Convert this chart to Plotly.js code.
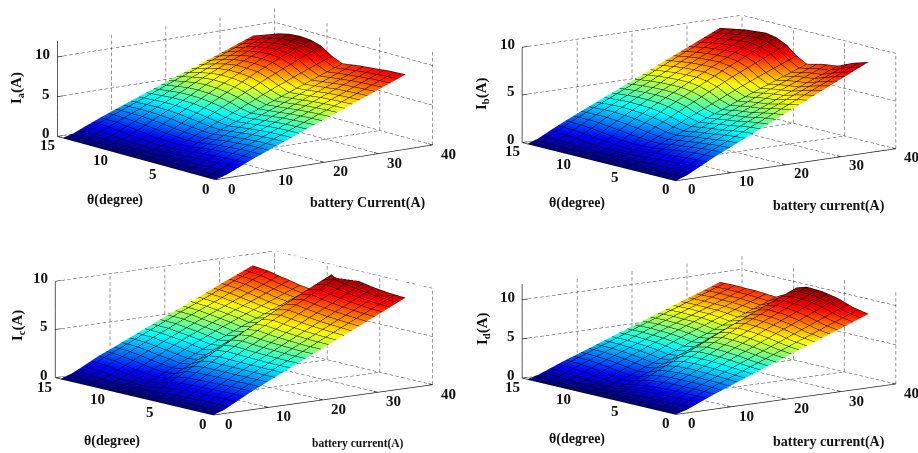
<!DOCTYPE html>
<html><head><meta charset="utf-8">
<script src="https://cdn.plot.ly/plotly-3.0.1.min.js"></script>
<style>html,body{margin:0;padding:0;background:#fff}#g{width:918px;height:453px}</style>
</head><body><div id="g"></div>
<script>
const W=918,H=453;
const batteryCurrent=[0,2,4,7,10,15,20,25,30,35];
const theta=[0,1.5,3,4.5,6,7,8,9,10,11,12,13,14.5];
const xTicks=[0,10,20,30,40];
const thetaTicks=[0,5,10,15];
const zTicksAll=[0,5,10];
const zA=[
[0,0,0,0,0,0,0,0,0,0,0,0,0],
[.4,.35,.3,.25,.2,.15,.15,.15,.2,.2,.25,.3,.35],
[1.0,.95,.85,.7,.55,.45,.4,.45,.5,.6,.7,.85,.95],
[1.9,1.85,1.7,1.5,1.2,1.1,1.1,1.15,1.3,1.45,1.6,1.75,1.8],
[2.7,2.65,2.5,2.3,2.0,2.0,2.1,2.2,2.4,2.5,2.6,2.6,2.6],
[4.05,4.0,3.85,3.6,3.35,3.5,3.75,3.95,4.1,4.15,4.15,4.05,3.9],
[5.4,5.3,5.15,4.9,4.7,5.0,5.45,5.75,5.9,5.95,5.85,5.6,5.2],
[6.7,6.6,6.45,6.2,6.0,6.5,7.1,7.5,7.6,7.6,7.4,7.05,6.45],
[8.05,7.95,7.8,7.55,7.3,7.85,8.6,9.05,9.15,9.05,8.8,8.4,7.7],
[9.4,9.3,9.1,8.9,8.6,9.2,10.1,10.5,10.6,10.5,10.2,9.7,9.0]];
const zB=[
[0,0,0,0,0,0,0,0,0,0,0,0,0],
[.4,.35,.3,.3,.25,.2,.2,.2,.25,.3,.35,.35,.4],
[1.0,.95,.85,.75,.6,.55,.5,.55,.6,.7,.8,.9,1.0],
[1.9,1.85,1.7,1.5,1.25,1.2,1.2,1.25,1.4,1.55,1.7,1.8,1.85],
[2.7,2.6,2.4,2.2,1.95,2.0,2.2,2.35,2.5,2.6,2.7,2.7,2.65],
[4.05,3.9,3.6,3.4,3.15,3.35,3.7,3.95,4.1,4.15,4.15,4.1,3.95],
[5.4,5.15,4.8,4.6,4.3,4.65,5.15,5.45,5.6,5.6,5.55,5.45,5.25],
[6.8,6.45,6.0,5.8,5.5,5.95,6.6,6.95,7.1,7.05,7.0,6.85,6.6],
[8.15,7.7,7.15,6.95,6.6,7.15,7.9,8.35,8.5,8.45,8.35,8.2,7.9],
[9.5,9.0,8.3,8.1,7.7,8.3,9.2,9.7,9.9,9.8,9.7,9.5,9.2]];
const zC=[
[0,0,0,0,0,0,0,0,0,0,0,0,0],
[.4,.4,.35,.3,.25,.2,.1,.1,.15,.2,.25,.3,.4],
[1.0,1.0,.95,.9,.8,.7,.45,.35,.45,.55,.7,.85,.95],
[1.9,1.9,1.85,1.8,1.75,1.6,1.2,1.05,1.15,1.3,1.5,1.7,1.85],
[2.7,2.7,2.7,2.7,2.7,2.55,2.0,1.85,2.0,2.15,2.35,2.5,2.6],
[4.05,4.05,4.1,4.15,4.25,4.1,3.35,3.2,3.4,3.6,3.7,3.85,3.9],
[5.4,5.4,5.5,5.6,5.8,5.65,4.7,4.5,4.7,4.85,5.0,5.15,5.2],
[6.7,6.8,6.9,7.1,7.3,7.15,6.0,5.7,5.9,6.05,6.2,6.35,6.45],
[8.05,8.15,8.3,8.5,8.8,8.6,7.2,6.85,7.0,7.2,7.4,7.6,7.75],
[9.4,9.5,9.7,10.0,10.3,10.0,8.4,8.0,8.15,8.4,8.6,8.85,9.0]];
const zD=[
[0,0,0,0,0,0,0,0,0,0,0,0,0],
[.4,.4,.35,.3,.25,.2,.1,.1,.15,.2,.25,.3,.4],
[1.0,1.0,.95,.9,.75,.6,.4,.35,.45,.55,.7,.85,.95],
[1.9,1.95,1.95,1.9,1.75,1.5,1.1,1.0,1.15,1.35,1.55,1.7,1.8],
[2.7,2.8,2.85,2.9,2.8,2.55,2.0,1.85,2.05,2.25,2.4,2.5,2.55],
[4.05,4.2,4.4,4.5,4.5,4.2,3.45,3.25,3.5,3.65,3.75,3.85,3.85],
[5.4,5.6,5.9,6.15,6.2,5.9,4.9,4.7,4.95,5.1,5.15,5.2,5.15],
[6.75,7.0,7.45,7.75,7.85,7.5,6.45,6.1,6.3,6.45,6.45,6.5,6.45],
[8.05,8.4,8.95,9.3,9.4,9.05,8.0,7.45,7.6,7.7,7.7,7.75,7.7],
[9.4,9.8,10.5,10.9,11,10.6,9.5,8.8,8.9,9.0,9.0,9.05,9.0]];

const panels=[
 {id:'scene', z:zA, zMax:12, cx:245, cy:93,  sub:'a', zt:[17,88],  tt:[115,200], xt:[368,203], xl:'battery Current(A)', xfs:14, asp:[2.97,2.83,1.06], ez:.21},
 {id:'scene2',z:zB, zMax:10, cx:709,cy:97.5,sub:'b', zt:[482,93], tt:[577,203], xt:[829,206], xl:'battery current(A)', xfs:14, asp:[3.01,2.75,1.055], ez:.19},
 {id:'scene3',z:zC, zMax:10, cx:243.5,cy:333,sub:'c',zt:[18,326], tt:[112,441], xt:[358,443], xl:'battery current(A)', xfs:11.5, asp:[3.0,2.83,1.065], ez:.18},
 {id:'scene4',z:zD, zMax:12, cx:709,cy:334,sub:'d',zt:[483,329],tt:[577,439], xt:[829,442], xl:'battery current(A)', xfs:14, asp:[3.01,2.75,1.04], ez:.18}
];
const jet=[[0,'rgb(0,0,128)'],[.11,'rgb(0,0,255)'],[.36,'rgb(0,255,255)'],[.61,'rgb(255,255,0)'],[.86,'rgb(255,0,0)'],[1,'rgb(128,0,0)']];
const serif='"Liberation Serif","Times New Roman",serif';
const tickFont={family:serif,size:15,color:'#111',weight:'bold'};
const data=[];
const layout={width:W,height:H,margin:{l:0,r:0,t:0,b:0},paper_bgcolor:'#fff',showlegend:false,annotations:[]};
const eye=8;
panels.forEach(p=>{
  const zt=zTicksAll;
  data.push({type:'surface',scene:p.id,x:batteryCurrent,y:theta,z:p.z[0].map((_,j)=>p.z.map(r=>r[j])),
    colorscale:jet,showscale:false,hoverinfo:'skip',
    lighting:{ambient:1,diffuse:0,specular:0,roughness:1,fresnel:0},
    contours:{x:{show:true,start:0,end:35.1,size:1.4,color:'#000',width:2,highlight:false},
              y:{show:true,start:0,end:14.6,size:1,color:'#000',width:2,highlight:false},
              z:{highlight:false}}});
  const gx=[],gy=[],gz=[];
  const zPx=96/p.zMax, pxPerUnit=[5.5,11,zPx], period=6, on=.6;
  const seg=(a,b)=>{
    const len=Math.hypot((b[0]-a[0])*pxPerUnit[0],(b[1]-a[1])*pxPerUnit[1],(b[2]-a[2])*pxPerUnit[2]);
    const n=Math.max(1,Math.round(len/period));
    for(let i=0;i<n;i++){
      const t0=i/n,t1=(i+on)/n;
      gx.push(a[0]+(b[0]-a[0])*t0,a[0]+(b[0]-a[0])*t1,null);
      gy.push(a[1]+(b[1]-a[1])*t0,a[1]+(b[1]-a[1])*t1,null);
      gz.push(a[2]+(b[2]-a[2])*t0,a[2]+(b[2]-a[2])*t1,null);
    }
  };
  zt.forEach(v=>{seg([40,0,v],[40,15,v]);seg([0,15,v],[40,15,v]);});
  thetaTicks.forEach(v=>{seg([40,v,0],[40,v,p.zMax]);seg([0,v,0],[40,v,0]);});
  xTicks.forEach(v=>{seg([v,15,0],[v,15,p.zMax]);seg([v,0,0],[v,15,0]);});
  data.push({type:'scatter3d',scene:p.id,mode:'lines',x:gx,y:gy,z:gz,hoverinfo:'skip',
    line:{color:'#333',width:1}});
  const ax=[],ay=[],az=[];
  const sg=(a,b)=>{ax.push(a[0],b[0],null);ay.push(a[1],b[1],null);az.push(a[2],b[2],null);};
  sg([0,0,0],[40,0,0]);sg([0,0,0],[0,15,0]);sg([0,15,0],[0,15,p.zMax]);
  zt.forEach(v=>sg([0,15,v],[1,15,v]));
  xTicks.forEach(v=>sg([v,0,0],[v,.4,0]));
  thetaTicks.forEach(v=>sg([0,v,0],[1,v,0]));
  data.push({type:'scatter3d',scene:p.id,mode:'lines',x:ax,y:ay,z:az,hoverinfo:'skip',
    line:{color:'#222',width:1.5}});
  const hidden={showgrid:false,zeroline:false,showline:false,showticklabels:false,ticks:'',showspikes:false,showbackground:false,title:{text:''}};
  const ann=[];
  zt.forEach(v=>ann.push({x:0,y:15,z:v,text:String(v),showarrow:false,xanchor:'right',xshift:-5,yshift:3,font:tickFont}));
  thetaTicks.forEach(v=>ann.push({x:0,y:v,z:0,text:String(v),showarrow:false,xshift:-10,yshift:-9,font:tickFont}));
  xTicks.forEach(v=>ann.push({x:v,y:0,z:0,text:String(v),showarrow:false,xshift:16,yshift:-9,font:tickFont}));
  layout[p.id]={
    domain:{x:[(p.cx-208)/W,(p.cx+208)/W],y:[(H-p.cy-92)/H,(H-p.cy+92)/H]},
    xaxis:Object.assign({range:[0,40]},hidden),
    yaxis:Object.assign({range:[0,15]},hidden),
    zaxis:Object.assign({range:[0,p.zMax]},hidden),
    aspectmode:'manual',aspectratio:{x:p.asp[0],y:p.asp[1],z:p.asp[2]},
    camera:{projection:{type:'orthographic'},up:{x:0,y:0,z:1},center:{x:0,y:0,z:0},
      eye:{x:-.596*eye,y:-.778*eye,z:p.ez*eye}},
    dragmode:false,annotations:ann,bgcolor:'#fff'};
  const add=(pos,text,size,angle)=>layout.annotations.push({xref:'paper',yref:'paper',x:pos[0]/W,y:1-pos[1]/H,text,showarrow:false,textangle:angle||0,xanchor:'center',yanchor:'middle',font:{family:serif,size,color:'#111',weight:'bold'}});
  add(p.zt,'I<sub>'+p.sub+'</sub>(A)',15,-90);
  add(p.tt,'θ(degree)',14);
  add(p.xt,p.xl,p.xfs);
});
Plotly.newPlot('g',data,layout,{displayModeBar:false});
</script></body></html>
